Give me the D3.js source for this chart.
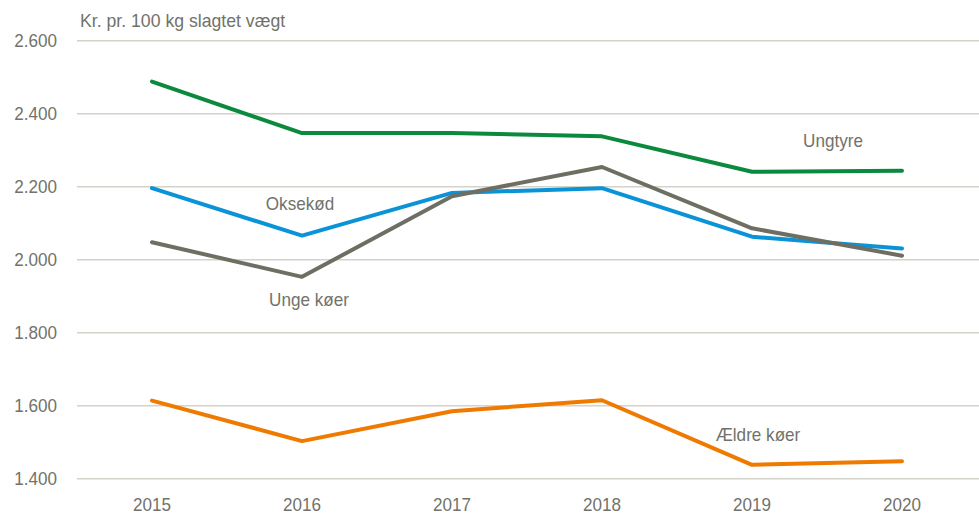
<!DOCTYPE html>
<meta charset="utf-8">
<script src="https://cdnjs.cloudflare.com/ajax/libs/d3/7.3.0/d3.min.js"></script>
<style>
  body { margin: 0; background: #fff; }
  text { font-family: "Liberation Sans Narrow", "Arial Narrow", "Liberation Sans", Arial, sans-serif; fill: #72726a; }
</style>
<div id="my_dataviz"></div>
<script>
    // data
    const years = ["2015", "2016", "2017", "2018", "2019", "2020"]
    const ungtyre = [2488, 2347, 2347, 2338, 2241, 2244]
    const oksekod = [2196, 2066, 2183, 2196, 2063, 2031]
    const ungeKoer = [2048, 1953, 2174, 2254, 2086, 2011]
    const aeldreKoer = [1614, 1503, 1585, 1615, 1438, 1448]
    const yTicks = [1400, 1600, 1800, 2000, 2200, 2400, 2600]

    const series = [
        { name: "Ungtyre", values: ungtyre, color: "#0b8a3e", lx: 833, ly: 2327 },
        { name: "Oksekød", values: oksekod, color: "#0a93d6", lx: 300, ly: 2155 },
        { name: "Unge køer", values: ungeKoer, color: "#6f6e62", lx: 309, ly: 1890 },
        { name: "Ældre køer", values: aeldreKoer, color: "#ef7a00", lx: 758, ly: 1522 }
    ]

    var width = 979, height = 515
    var squeeze = 0.92  // the original font is slightly condensed

    var svg = d3.select("#my_dataviz")
        .append("svg")
        .attr("width", width)
        .attr("height", height)

    var x = d3.scalePoint()
        .domain(years)
        .range([77, 977])
        .padding(0.5)

    var y = d3.scaleLinear()
        .domain([1400, 2600])
        .range([478.7, 40.7])

    // gridlines
    svg.append("g")
        .selectAll("line")
        .data(yTicks)
        .join("line")
        .attr("x1", 77).attr("x2", 979)
        .attr("y1", d => y(d)).attr("y2", d => y(d))
        .attr("stroke", "#d3d2cb")
        .attr("stroke-width", 1.5)

    // y tick labels
    var fmt = d => d3.format(",")(d).replace(",", ".")
    svg.append("g")
        .selectAll("text")
        .data(yTicks)
        .join("text")
        .attr("transform", d => "translate(57," + y(d) + ") scale(" + squeeze + ",1)")
        .attr("dy", "0.35em")
        .attr("text-anchor", "end")
        .style("font-size", "18.6px")
        .text(fmt)

    // x labels
    svg.append("g")
        .selectAll("text")
        .data(years)
        .join("text")
        .attr("transform", d => "translate(" + x(d) + ",511) scale(" + squeeze + ",1)")
        .attr("text-anchor", "middle")
        .style("font-size", "18.6px")
        .text(d => d)

    // title
    svg.append("text")
        .attr("transform", "translate(80,27) scale(0.95,1)")
        .style("font-size", "18.6px")
        .text("Kr. pr. 100 kg slagtet vægt")

    var line = d3.line()
        .x((d, i) => x(years[i]))
        .y(d => y(d))

    svg.append("g")
        .selectAll("path")
        .data(series)
        .join("path")
        .attr("fill", "none")
        .attr("stroke", d => d.color)
        .attr("stroke-width", 4)
        .attr("stroke-linejoin", "round")
        .attr("stroke-linecap", "round")
        .attr("d", d => line(d.values))

    // series labels
    svg.append("g")
        .selectAll("text")
        .data(series)
        .join("text")
        .attr("transform", d => "translate(" + d.lx + "," + y(d.ly) + ") scale(" + squeeze + ",1)")
        .attr("dy", "0.35em")
        .attr("text-anchor", "middle")
        .style("font-size", "18.6px")
        .text(d => d.name)
</script>
